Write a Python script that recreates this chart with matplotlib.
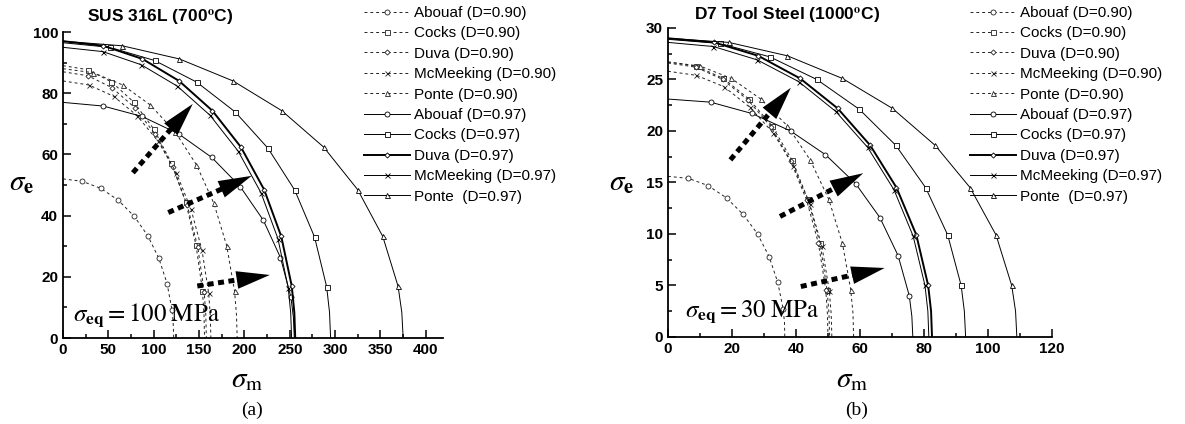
import matplotlib
matplotlib.use("Agg")
import matplotlib.pyplot as plt
from matplotlib.ticker import MultipleLocator

plt.rcParams["font.family"] = "Liberation Sans"
plt.rcParams["mathtext.fontset"] = "stix"

models = ["Abouaf", "Cocks", "Duva", "McMeeking", "Ponte"]
marks = ["o", "s", "D", "x", "^"]
mark_size = [3.6, 3.6, 2.6, 3.6, 3.6]

# SUS 316L (700 C), sigma_eq = 100 MPa -- rows follow `models`
sus_sm_90 = [
    [0, 21.2, 41.7, 61, 78.4, 93.5, 105.7, 114.7, 120.2, 121.5, 122],
    [0, 27.1, 53.4, 78, 100.3, 119.5, 135.1, 146.6, 153.7, 155.4, 156],
    [0, 27.5, 54, 79, 101.6, 121, 136.8, 148.5, 155.6, 157.4, 158],
    [0, 28.4, 55.7, 81.5, 104.8, 124.9, 141.2, 153.2, 160.6, 162.3, 163],
    [0, 33.4, 65.7, 96, 123.5, 147.1, 166.3, 180.5, 189.1, 191.2, 192],
]
sus_se_90 = [
    [52, 51.2, 48.9, 45.0, 39.8, 33.4, 26.0, 17.8, 9.0, 4.5, 0],
    [89, 87.7, 83.7, 77.1, 68.2, 57.2, 44.5, 30.4, 15.5, 7.7, 0],
    [87, 85.7, 81.8, 75.3, 66.6, 55.9, 43.5, 29.8, 15.1, 7.6, 0],
    [84, 82.7, 79, 72.7, 64.3, 54, 42, 28.7, 14.6, 7.3, 0],
    [88, 86.7, 82.7, 76.2, 67.4, 56.6, 44, 30.1, 15.3, 7.7, 0],
]
sus_sm_97 = [
    [0, 44.4, 87.2, 127.5, 164, 195.3, 220.8, 239.7, 251.2, 254, 255],
    [0, 51.3, 100.9, 147.5, 189.7, 226, 255.5, 277.3, 290.6, 293.8, 295],
    [0, 44.5, 87.6, 128, 164.6, 196.1, 221.7, 240.6, 252.2, 255, 256],
    [0, 43.8, 86.2, 126, 162, 193, 218.2, 236.9, 248.2, 251, 252],
    [0, 65.3, 128.3, 187.5, 241.1, 287.3, 324.8, 352.5, 369.4, 373.5, 375],
]
sus_se_97 = [
    [77, 75.8, 72.4, 66.7, 59, 49.5, 38.5, 26.3, 13.4, 6.7, 0],
    [96.5, 95, 90.7, 83.6, 73.9, 62, 48.3, 33, 16.8, 8.4, 0],
    [97, 95.5, 91.2, 84, 74.3, 62.4, 48.5, 33.2, 16.9, 8.4, 0],
    [95, 93.6, 89.3, 82.3, 72.8, 61.1, 47.5, 32.5, 16.5, 8.3, 0],
    [97, 95.5, 91.2, 84, 74.3, 62.4, 48.5, 33.2, 16.9, 8.4, 0],
]

# D7 tool steel (1000 C), sigma_eq = 30 MPa
d7_sm_90 = [
    [0, 6.4, 12.5, 18.3, 23.5, 28, 31.6, 34.3, 36, 36.4, 36.5],
    [0, 8.8, 17.3, 25.3, 32.5, 38.7, 43.7, 47.5, 49.7, 50.3, 50.5],
    [0, 8.7, 17.1, 25, 32.2, 38.3, 43.3, 47, 49.3, 49.8, 50],
    [0, 8.9, 17.5, 25.6, 32.9, 39.2, 44.3, 48.1, 50.4, 51, 51.2],
    [0, 10.1, 19.8, 29, 37.3, 44.4, 50.2, 54.5, 57.1, 57.8, 58],
]
d7_se_90 = [
    [15.6, 15.4, 14.7, 13.5, 11.9, 10, 7.8, 5.3, 2.7, 1.4, 0],
    [26.7, 26.3, 25.1, 23.1, 20.5, 17.2, 13.4, 9.1, 4.6, 2.3, 0],
    [26.6, 26.2, 25, 23, 20.4, 17.1, 13.3, 9.1, 4.6, 2.3, 0],
    [25.8, 25.4, 24.3, 22.3, 19.8, 16.6, 12.9, 8.8, 4.5, 2.2, 0],
    [26.7, 26.3, 25.1, 23.1, 20.5, 17.2, 13.4, 9.1, 4.6, 2.3, 0],
]
d7_sm_97 = [
    [0, 13.3, 26.2, 38.3, 49.2, 58.6, 66.2, 71.9, 75.4, 76.2, 76.5],
    [0, 16.2, 31.8, 46.5, 59.8, 71.2, 80.5, 87.4, 91.6, 92.6, 93],
    [0, 14.4, 28.2, 41.3, 53, 63.2, 71.4, 77.6, 81.3, 82.2, 82.5],
    [0, 14.2, 27.9, 40.8, 52.4, 62.4, 70.6, 76.6, 80.3, 81.2, 81.5],
    [0, 19, 37.3, 54.5, 70.1, 83.5, 94.4, 102.5, 107.4, 108.6, 109],
]
d7_se_97 = [
    [23.1, 22.8, 21.7, 20, 17.7, 14.9, 11.6, 7.9, 4, 2, 0],
    [28.9, 28.5, 27.2, 25, 22.1, 18.6, 14.5, 9.9, 5, 2.5, 0],
    [29, 28.6, 27.3, 25.1, 22.2, 18.6, 14.5, 9.9, 5, 2.5, 0],
    [28.6, 28.2, 26.9, 24.8, 21.9, 18.4, 14.3, 9.8, 5, 2.5, 0],
    [29, 28.6, 27.3, 25.1, 22.2, 18.6, 14.5, 9.9, 5, 2.5, 0],
]

# arrows: (start sm, start se, tip sm, tip se)
sus_arrows = [(77, 54, 143, 76.5), (116, 41, 208, 53), (148, 17, 228, 20.6)]
d7_arrows = [(19.5, 17.2, 38.4, 24.2), (35, 11.7, 61, 15.9), (41.5, 4.9, 67.7, 6.7)]


def draw_panel(ax, sm90, se90, sm97, se97, arrows):
    handles = []
    for i in range(5):
        h, = ax.plot(sm90[i], se90[i], color="#222222", lw=0.7, ls=(0, (3, 3)),
                     marker=marks[i], ms=mark_size[i], mfc="white", mew=0.6,
                     markevery=list(range(1, 9)),
                     label=f"{models[i]} (D=0.90)")
        handles.append(h)
    for i in range(5):
        lw = 1.4 if models[i] == "Duva" else 0.7
        name = "Ponte " if models[i] == "Ponte" else models[i]
        h, = ax.plot(sm97[i], se97[i], color="k", lw=lw, ls="-",
                     marker=marks[i], ms=mark_size[i], mfc="white", mew=0.6,
                     markevery=list(range(1, 9)),
                     label=f"{name} (D=0.97)")
        handles.append(h)

    for x0, y0, x1, y1 in arrows:
        xm = x0 + 0.82 * (x1 - x0)
        ym = y0 + 0.82 * (y1 - y0)
        ax.plot([x0, xm], [y0, ym], color="k", lw=3.6, ls=(0, (1.2, 0.9)),
                solid_capstyle="butt", dash_capstyle="butt")
        ax.annotate("", xy=(x1, y1), xytext=(x0, y0),
                    arrowprops=dict(arrowstyle="-|>,head_length=1.5,head_width=0.4",
                                    color="k", lw=0, shrinkA=0, shrinkB=0,
                                    mutation_scale=16))

    for s in ["top", "right"]:
        ax.spines[s].set_visible(False)
    ax.spines["left"].set_linewidth(1.3)
    ax.spines["bottom"].set_linewidth(1.3)
    ax.tick_params(which="both", direction="in", labelsize=11, width=1.1)
    ax.tick_params(which="major", length=6)
    ax.tick_params(which="minor", length=3)
    return handles


fig = plt.figure(figsize=(11.85, 4.24), dpi=100)

ax1 = fig.add_axes([0.0532, 0.2028, 0.3207, 0.7217])
h1 = draw_panel(ax1, sus_sm_90, sus_se_90, sus_sm_97, sus_se_97, sus_arrows)
ax1.set_xlim(0, 419)
ax1.set_ylim(0, 100)
ax1.xaxis.set_major_locator(MultipleLocator(50))
ax1.xaxis.set_minor_locator(MultipleLocator(25))
ax1.yaxis.set_major_locator(MultipleLocator(20))
ax1.yaxis.set_minor_locator(MultipleLocator(10))
for lab in ax1.get_xticklabels() + ax1.get_yticklabels():
    lab.set_fontweight("bold")
ax1.text(11, 5.5, r"$\sigma_{\mathbf{eq}} = 100\;\mathrm{MPa}$", fontsize=18)
fig.text(160 / 1185, 1 - 17 / 424, r"SUS 316L (700$^{\mathbf{o}}$C)",
         fontsize=12.5, fontweight="bold", ha="center", va="center")

ax2 = fig.add_axes([0.5637, 0.2052, 0.3241, 0.7288])
h2 = draw_panel(ax2, d7_sm_90, d7_se_90, d7_sm_97, d7_se_97, d7_arrows)
ax2.set_xlim(0, 120)
ax2.set_ylim(0, 30)
ax2.xaxis.set_major_locator(MultipleLocator(20))
ax2.xaxis.set_minor_locator(MultipleLocator(10))
ax2.yaxis.set_major_locator(MultipleLocator(5))
ax2.yaxis.set_minor_locator(MultipleLocator(2.5))
for lab in ax2.get_xticklabels() + ax2.get_yticklabels():
    lab.set_fontweight("bold")
ax2.text(5.3, 2.0, r"$\sigma_{\mathbf{eq}} = 30\;\mathrm{MPa}$", fontsize=18)
fig.text(787 / 1185, 1 - 15 / 424, r"D7 Tool Steel (1000$^{\mathbf{o}}$C)",
         fontsize=12.5, fontweight="bold", ha="center", va="center")

leg_kw = dict(loc="upper left", frameon=False, fontsize=11, handlelength=3.0,
              handletextpad=0.3, labelspacing=0.42, borderpad=0, borderaxespad=0,
              bbox_transform=fig.transFigure)
fig.legend(handles=h1, bbox_to_anchor=(364 / 1185, 1 - 6 / 424), **leg_kw)
fig.legend(handles=h2, bbox_to_anchor=(970 / 1185, 1 - 6 / 424), **leg_kw)

# axis titles and panel tags
for xl, xe, xtag, tag in [(247, 22, 252, "(a)"), (852, 622, 857, "(b)")]:
    fig.text(xl / 1185, 1 - 379 / 424, r"$\sigma_{\mathrm{m}}$", fontsize=21,
             ha="center", va="center")
    fig.text(xe / 1185, 1 - 182 / 424, r"$\sigma_{\mathbf{e}}$", fontsize=21,
             ha="center", va="center")
    fig.text(xtag / 1185, 1 - 410 / 424, tag, fontsize=14, family="Liberation Serif",
             ha="center", va="center")

fig.savefig("out.png", dpi=100)
